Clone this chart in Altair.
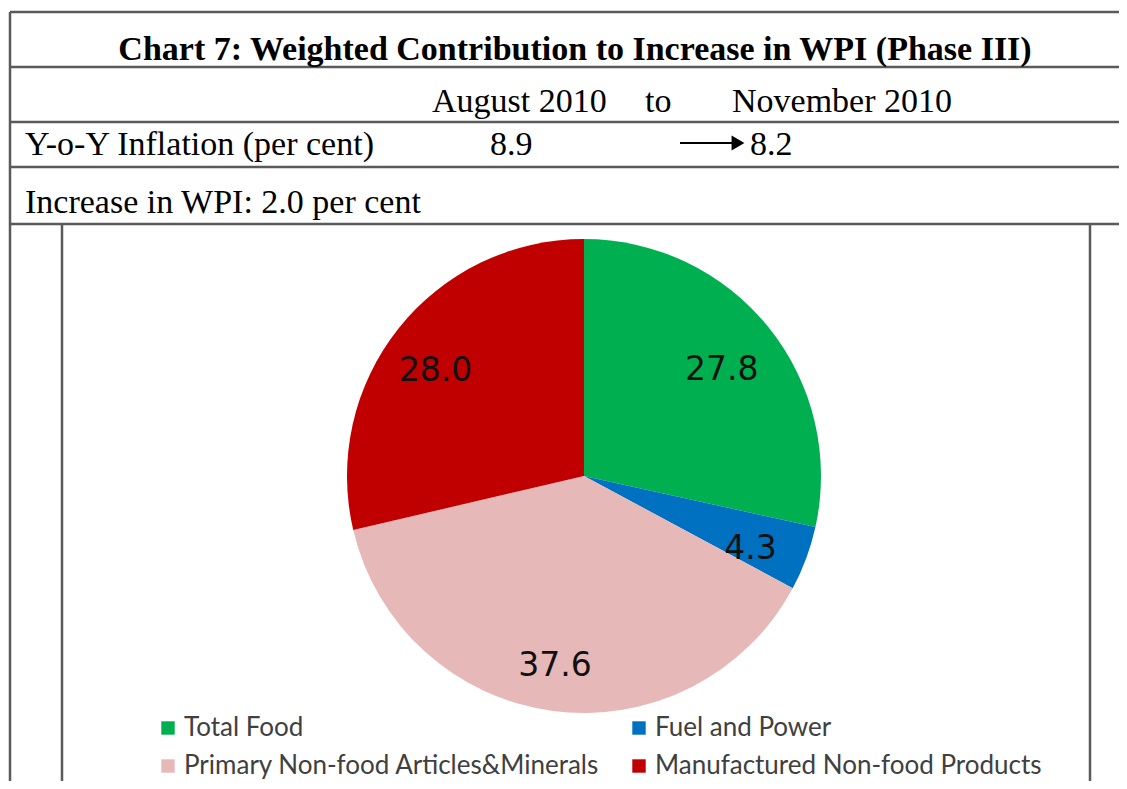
import altair as alt
import pandas as pd

# ---- data ----
categories = ["Total Food", "Fuel and Power", "Primary Non-food Articles&Minerals", "Manufactured Non-food Products"]
values = [27.8, 4.3, 37.6, 28.0]
colors = ["#00B050", "#0070C0", "#E6B9B8", "#C00000"]
order_idx = [0, 1, 2, 3]

title_text = "Chart 7: Weighted Contribution to Increase in WPI (Phase III)"
period_from = "August 2010"
period_to_word = "to"
period_to = "November 2010"
row_label = "Y-o-Y Inflation (per cent)"
infl_from = "8.9"
infl_to = "8.2"
increase_text = "Increase in WPI: 2.0 per cent"

df = pd.DataFrame({"cat": categories, "value": values, "idx": order_idx,
                   "label": [f"{v:.1f}" for v in values]})

W, H = 1111, 773
CX, CY, R = 576, 468, 237
SERIF = "Liberation Serif"
FS = 34
LINE = "#5a5a5a"

base = alt.Chart(df).encode(
    theta=alt.Theta("value:Q", stack=True),
    order=alt.Order("idx:Q"),
    x=alt.value(CX), y=alt.value(CY),
)

pie = base.mark_arc(outerRadius=R, stroke=None).encode(
    color=alt.Color("cat:N",
                    scale=alt.Scale(domain=categories, range=colors),
                    sort=categories,
                    legend=alt.Legend(title=None, orient="none", legendX=147, legendY=707,
                                      direction="horizontal",
                                      columns=2, columnPadding=26, rowPadding=12,
                                      symbolType="square", symbolSize=180, symbolStrokeWidth=0,
                                      labelFont="Lato", labelFontSize=26, labelColor="#404040",
                                      labelOffset=3, labelLimit=700))
)

labels = base.mark_text(radius=183, font="DejaVu Sans", fontSize=33, color="#111111",
                        dy=9, dx=-5).encode(
    text="label:N"
)


def txt(s, x, y, size=FS, bold=False, align="left"):
    return alt.Chart(pd.DataFrame({"t": [s]})).mark_text(
        font=SERIF, fontSize=size, fontWeight="bold" if bold else "normal",
        align=align, baseline="alphabetic", color="#000000"
    ).encode(text="t:N", x=alt.value(x), y=alt.value(y))


def hline(y, x1=2, x2=W):
    return alt.Chart(pd.DataFrame({"a": [0]})).mark_rule(color=LINE, strokeWidth=2.5).encode(
        x=alt.value(x1), x2=alt.value(x2), y=alt.value(y))


def vline(x, y1, y2=H):
    return alt.Chart(pd.DataFrame({"a": [0]})).mark_rule(color=LINE, strokeWidth=2.5).encode(
        x=alt.value(x), y=alt.value(y1), y2=alt.value(y2))


arrow_line = alt.Chart(pd.DataFrame({"a": [0]})).mark_rule(color="#000000", strokeWidth=2).encode(
    x=alt.value(672), x2=alt.value(726), y=alt.value(135))
arrow_head = alt.Chart(pd.DataFrame({"a": [0]})).mark_point(
    shape="triangle-right", filled=True, color="#000000", opacity=1, size=220).encode(
    x=alt.value(730), y=alt.value(135))

layers = [
    hline(4), hline(59), hline(114), hline(159), hline(216),
    vline(2, 4), vline(54, 216), vline(1082, 216),
    txt(title_text, 567, 52, bold=True, align="center"),
    txt(period_from, 424, 104), txt(period_to_word, 637, 104), txt(period_to, 724, 104),
    txt(row_label, 17, 147), txt(infl_from, 482, 147), txt(infl_to, 742, 147),
    txt(increase_text, 17, 205),
    arrow_line, arrow_head,
    pie, labels,
]

chart = alt.layer(*layers).properties(
    width=W, height=H,
    autosize=alt.AutoSizeParams(type="fit", contains="padding"),
    padding=0,
).configure_view(stroke=None)

chart.save("out.html", embed_options={"renderer": "svg", "actions": False})
